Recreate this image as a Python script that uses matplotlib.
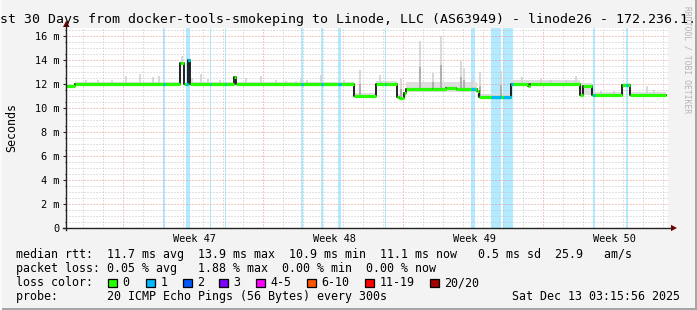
import matplotlib
matplotlib.use("Agg")
import matplotlib.pyplot as plt
from matplotlib.patches import Rectangle, Polygon
from matplotlib.lines import Line2D
import numpy as np

W, H = 697, 310
MONO = "DejaVu Sans Mono"

# ---------------- data (days since start of window, milliseconds) ----------------
median_start = [0.0, 0.45, 5.7, 5.9, 6.1, 6.2, 8.4, 8.5, 14.4, 15.5, 16.55, 16.65, 16.9,
                17.0, 18.3, 19.0, 19.5, 20.55, 20.65, 22.25, 23.1, 23.2, 25.7, 25.85,
                26.3, 27.8, 28.2]
median_ms = [11.85, 12.02, 13.75, 12.02, 14.0, 12.02, 12.6, 12.02, 10.97, 12.02, 10.95, 10.83,
             11.25, 11.6, 11.55, 11.65, 11.58, 11.4, 10.93, 12.02, 11.85, 12.02, 11.1, 11.87,
             11.12, 11.9, 11.1]
end_day = 30.0

loss_start = [4.835, 5.985, 7.185, 7.935, 11.75, 12.75, 13.6, 15.935, 20.25, 21.25, 21.85, 26.35, 28.0]
loss_end = [4.935, 6.2, 7.25, 8.0, 11.85, 12.85, 13.75, 16.0, 20.45, 21.75, 22.35, 26.45, 28.1]

smoke_start = [0.0, 0.45, 6.2, 14.4, 15.5, 16.55, 17.0, 20.55, 22.25, 25.7, 26.3, 27.8, 28.2]
smoke_end = [0.45, 5.7, 14.4, 15.5, 16.55, 17.0, 20.55, 22.25, 25.7, 26.3, 27.8, 28.2, 30.0]
smoke_low = [11.85, 12.02, 12.02, 10.97, 12.02, 10.85, 11.3, 10.9, 12.02, 11.1, 11.12, 11.9, 11.1]
smoke_high = [12.0, 12.2, 12.2, 11.25, 12.25, 11.2, 12.2, 11.2, 12.3, 12.1, 11.35, 12.1, 11.3]

spike_day = [1.0, 1.6, 2.3, 3.0, 3.7, 4.35, 4.65, 5.8, 6.3, 6.75, 7.1, 7.7, 8.15, 9.0, 9.73,
             10.5, 11.0, 11.5, 11.73, 12.07, 12.73, 13.9, 14.7, 15.7, 16.73, 17.7, 18.37,
             18.75, 19.73, 19.9, 20.3, 20.7, 21.73, 22.8, 23.73, 24.23, 25.0, 25.5, 26.73,
             27.4, 29.03, 29.4]
spike_top = [12.35, 12.3, 12.35, 12.65, 12.8, 12.6, 12.65, 14.3, 12.5, 12.8, 12.45, 12.36,
             12.2, 12.5, 12.64, 12.3, 12.25, 12.25, 12.5, 12.3, 12.78, 12.3, 13.17, 12.78,
             12.5, 15.6, 12.9, 16.0, 13.9, 13.3, 12.3, 13.0, 13.05, 12.56, 12.5, 12.35, 12.35,
             12.64, 11.44, 11.44, 11.8, 11.5]

week_labels = ["Week 47", "Week 48", "Week 49", "Week 50"]
week_label_day = [6.4, 13.4, 20.4, 27.4]
week_start_day = [2.85, 9.85, 16.85, 23.85]
first_day_line = 0.85

ytick_vals = [0, 2, 4, 6, 8, 10, 12, 14, 16]
ytick_labels = ["0", "2 m", "4 m", "6 m", "8 m", "10 m", "12 m", "14 m", "16 m"]

rtt_stats = ["11.7 ms avg", "13.9 ms max", "10.9 ms min", "11.1 ms now", " 0.5 ms sd", "25.9   am/s"]
loss_stats = ["0.05 % avg", "1.88 % max", "0.00 % min", "0.00 % now"]
loss_labels = ["0", "1", "2", "3", "4-5", "6-10", "11-19", "20/20"]
loss_colors = ["#26ff00", "#00b8ff", "#0059ff", "#7e00ff", "#ff00ff", "#ff5500", "#ff0000", "#a10000"]
probe_text = "20 ICMP Echo Pings (56 Bytes) every 300s"
stamp_text = "Sat Dec 13 03:15:56 2025"
title_text = "Last 30 Days from docker-tools-smokeping to Linode, LLC (AS63949) - linode26 - 172.236.1.1"

# ---------------- figure ----------------
fig = plt.figure(figsize=(W / 100, H / 100), dpi=100, facecolor="#f3f3f3")

def fx(px):
    return px / W

def fy(py):
    return 1 - py / H

L, R, T, B = 66, 668, 28, 228
ax = fig.add_axes([fx(L), fy(B), (R - L) / W, (B - T) / H])
ax.set_facecolor("white")
ax.set_xlim(0, 30.1)
ax.set_ylim(0, (B - T) / 12.0)
for s in ax.spines.values():
    s.set_visible(False)

px_pt = 0.72
# loss background bars
for s, e in zip(loss_start, loss_end):
    ax.axvspan(s, e, color="#b2eaff", lw=0, zorder=0.5)

# grid
dot = (0, (1, 2))
day_lines = np.arange(first_day_line, 30.1, 1.0)
for d in day_lines:
    if any(abs(d - w) < 1e-6 for w in week_start_day):
        continue
    ax.axvline(d, color="#c4c4c4", lw=px_pt, ls=dot, zorder=1)
for w in week_start_day:
    ax.axvline(w, color="#ee9090", lw=px_pt, ls=dot, zorder=1)
for yv in np.arange(0.5, 16.6, 0.5):
    if abs(yv % 2) < 1e-6:
        ax.axhline(yv, color="#ee9090", lw=px_pt, ls=dot, zorder=1)
    else:
        ax.axhline(yv, color="#c4c4c4", lw=px_pt, ls=dot, zorder=1)

# smoke
ss = np.array(smoke_start); se = np.array(smoke_end)
sl = np.array(smoke_low); sh = np.array(smoke_high)
ax.bar(ss, sh - sl, bottom=sl, width=se - ss, align="edge", color="#dedede", lw=0, zorder=2)

def median_at(d):
    idx = 0
    for i, st in enumerate(median_start):
        if st <= d:
            idx = i
    return median_ms[idx]

base = np.array([median_at(d) for d in spike_day])
top = np.array(spike_top)
ax.vlines(spike_day, base, top, color="#d2d2d2", lw=1.2, zorder=2.1)
tall = (top - base) > 1.0
ax.vlines(np.array(spike_day)[tall], base[tall], (base + 0.45 * (top - base))[tall],
          color="#a8a8a8", lw=1.2, zorder=2.2)

# median: black step line then coloured segments
xs = median_start + [end_day]
ys = median_ms + [median_ms[-1]]
ax.step(xs, ys, where="post", color="#111111", lw=1.3, zorder=3)
seg_end = median_start[1:] + [end_day]
ax.hlines(median_ms, median_start, seg_end, color="#26ff00", lw=2.3, zorder=4)
for s, e in zip(loss_start, loss_end):
    for st, en, v in zip(median_start, seg_end, median_ms):
        a, b = max(s, st), min(e, en)
        if b > a:
            ax.hlines(v, a, b, color="#00b8ff", lw=2.3, zorder=4.5)

# ticks
ax.set_yticks(ytick_vals)
ax.set_yticklabels(ytick_labels, family=MONO, fontsize=7.4)
ax.set_yticks(np.arange(0.5, 16.6, 1.0), minor=True)
ax.tick_params(axis="y", which="major", length=2, width=0.8, pad=3, colors="#222222", labelcolor="black")
ax.tick_params(axis="y", which="minor", length=1, width=0.8, colors="#222222")
ax.set_xticks(week_label_day)
ax.set_xticklabels(week_labels, family=MONO, fontsize=7.4)
ax.tick_params(axis="x", which="major", length=0, pad=4.5)

# axes lines + arrows
fig.add_artist(Line2D([fx(L), fx(L)], [fy(B + 2), fy(26)], color="#222222", lw=1.0))
fig.add_artist(Line2D([fx(L - 3), fx(672)], [fy(B), fy(B)], color="#222222", lw=1.0))
fig.add_artist(Polygon([[fx(L - 3), fy(27)], [fx(L + 3.5), fy(27)], [fx(L + 0.25), fy(20.5)]],
                       closed=True, color="#7f0000", lw=0))
fig.add_artist(Polygon([[fx(671), fy(B - 3.2)], [fx(671), fy(B + 3.2)], [fx(677), fy(B)]],
                       closed=True, color="#7f0000", lw=0))

# title, labels, watermark
fig.text(fx(-15.9), fy(23), title_text, family=MONO, fontsize=9.5, ha="left", va="baseline")
fig.text(fx(12), fy(127.5), "Seconds", family=MONO, fontsize=8.4, rotation=90, ha="center", va="center")
fig.text(fx(686.5), fy(60), "RRDTOOL / TOBI OETIKER", family=MONO, fontsize=5.8, rotation=270,
         ha="center", va="center", color="#b4b4b4")

# legend
X0 = 15.5
LF = 8.4
row_y = [258, 272.2, 286.4, 300.3]
row1 = "median rtt:  " + "  ".join(rtt_stats[:4]) + "  " + rtt_stats[4] + "  " + rtt_stats[5]
row2 = "packet loss: " + loss_stats[0] + "   " + loss_stats[1] + "  " + loss_stats[2] + "  " + loss_stats[3]
fig.text(fx(X0), fy(row_y[0]), row1, family=MONO, fontsize=LF, va="baseline")
fig.text(fx(X0), fy(row_y[1]), row2, family=MONO, fontsize=LF, va="baseline")
fig.text(fx(X0), fy(row_y[2]), "loss color:", family=MONO, fontsize=LF, va="baseline")
sq_x = [108, 146, 183, 219, 256, 307, 365, 430]
for x, lab, c in zip(sq_x, loss_labels, loss_colors):
    fig.add_artist(Rectangle((fx(x), fy(287.3)), 8.5 / W, 8.5 / H, facecolor=c, edgecolor="black", lw=0.9))
    fig.text(fx(x + 14.5), fy(row_y[2]), lab, family=MONO, fontsize=LF, va="baseline")
fig.text(fx(X0), fy(row_y[3]), "probe:       " + probe_text, family=MONO, fontsize=LF, va="baseline")
fig.text(fx(512.5), fy(row_y[3]), stamp_text, family=MONO, fontsize=LF, va="baseline")

# frame shading
fig.add_artist(Rectangle((0, 0), 1, 2.5 / H, facecolor="#a6a6a6", lw=0))
fig.add_artist(Rectangle((1 - 2.5 / W, 0), 2.5 / W, 1, facecolor="#a6a6a6", lw=0))
fig.add_artist(Rectangle((0, 0), 1.5 / W, 1, facecolor="#fbfbfb", lw=0))

fig.savefig("out.png", dpi=100, facecolor=fig.get_facecolor())
